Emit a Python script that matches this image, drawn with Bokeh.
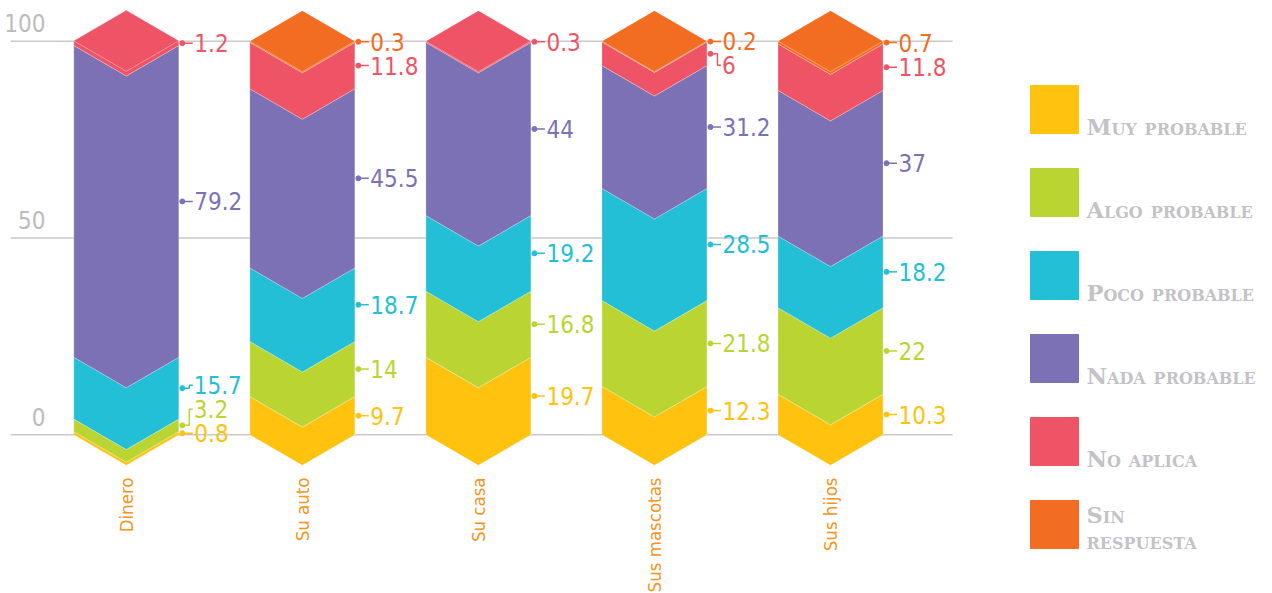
import numpy as np
from bokeh.plotting import figure
from bokeh.models import Range1d, InlineStyleSheet
from bokeh.layouts import row
from bokeh.core.properties import value
from bokeh.embed import file_html
from bokeh.resources import INLINE

# ---------------- data ----------------
categories = ["Dinero", "Su auto", "Su casa", "Sus mascotas", "Sus hijos"]
series_names = ["Muy probable", "Algo probable", "Poco probable",
                "Nada probable", "No aplica", "Sin respuesta"]
muy_probable = [0.8, 9.7, 19.7, 12.3, 10.3]
algo_probable = [3.2, 14, 16.8, 21.8, 22]
poco_probable = [15.7, 18.7, 19.2, 28.5, 18.2]
nada_probable = [79.2, 45.5, 44, 31.2, 37]
no_aplica = [1.2, 11.8, 0.3, 6, 11.8]
sin_respuesta = [0, 0.3, 0, 0.2, 0.7]
y_ticks = [0, 50, 100]
y_tick_labels = ["0", "50", "100"]

series = [muy_probable, algo_probable, poco_probable, nada_probable, no_aplica, sin_respuesta]
colors = ["#FFC20E", "#BAD532", "#23BFD6", "#7B71B4", "#EF5466", "#F26C22"]

# ---------------- geometry (picture pixels -> data units) ----------------
MAIN_W, LEG_W, H = 1008, 256, 592
PX_X = 176.05          # px per category step
PX_Y = 3.936           # px per percent
X0_PAGE = 125.8        # x of first column centre
Y0_PAGE = 434.3        # y of value 0
x_start = (0 - X0_PAGE) / PX_X
x_end = (MAIN_W - X0_PAGE) / PX_X
y_end = Y0_PAGE / PX_Y
y_start = (Y0_PAGE - H) / PX_Y

def dx(px):
    return px / PX_X

def dy(px):
    return px / PX_Y

HALF = dx(52.5)
DIP = dy(30.5)
FONT = value("'DejaVu Sans Condensed', 'Roboto', sans-serif")

p = figure(width=MAIN_W, height=H, x_range=Range1d(x_start, x_end),
           y_range=Range1d(y_start, y_end), output_backend="svg",
           toolbar_location=None, x_axis_type=None, y_axis_type=None,
           min_border=0, outline_line_color=None, background_fill_color="white",
           border_fill_color="white")
p.grid.visible = False

# grid lines
gx0, gx1 = (10 - X0_PAGE) / PX_X, (952 - X0_PAGE) / PX_X
p.segment(x0=[gx0] * len(y_ticks), x1=[gx1] * len(y_ticks), y0=y_ticks, y1=y_ticks,
          line_color="#c9c9c9", line_width=1.5)
p.text(x=[(45 - X0_PAGE) / PX_X] * len(y_ticks), y=[t + dy(18) for t in y_ticks],
       text=y_tick_labels, text_align="right", text_baseline="middle",
       text_color="#bcbcbc", text_font=FONT, text_font_size="24px")

# columns
for i, cat in enumerate(categories):
    vals = [s[i] for s in series]
    nz = [k for k, v in enumerate(vals) if v > 0]
    top_k = nz[-1]
    base = 0.0
    xs, ys, cs = [], [], []
    mids, labels, lcols = [], [], []
    for k in nz:
        v = vals[k]
        lo, hi = base, base + v
        xs.append([i - HALF, i, i + HALF, i + HALF, i, i - HALF])
        if k == top_k:
            ys.append([lo, lo - DIP, lo, hi, hi + DIP, hi])
        else:
            ys.append([lo, lo - DIP, lo, hi, hi - DIP, hi])
        cs.append(colors[k])
        mids.append((lo + hi) / 2)
        labels.append(f"{v:g}")
        lcols.append(colors[k])
        base = hi
    p.patches(xs, ys, fill_color=cs, line_color="white", line_alpha=0.3, line_width=0.8)
    # light inner V line of the top cap
    p.line([i - HALF, i, i + HALF], [base, base - DIP, base], line_color="white",
           line_alpha=0.35, line_width=1)

    # label placement with simple repel
    gap = 6.1
    ty = list(mids)
    for k in range(1, len(ty)):
        ty[k] = max(ty[k], ty[k - 1] + gap)
    ty[-1] = min(ty[-1], 100)
    for k in range(len(ty) - 2, -1, -1):
        ty[k] = min(ty[k], ty[k + 1] - gap)

    edge = i + HALF
    dot_x = edge + dx(3.5)
    lx, ly, tx = [], [], []
    for m, t in zip(mids, ty):
        if abs(m - t) > dy(2):
            lx.append([dot_x, edge + dx(10.5), edge + dx(10.5), edge + dx(14)])
            ly.append([m, m, t, t])
            tx.append(edge + dx(15))
        else:
            lx.append([dot_x, edge + dx(14)])
            ly.append([m, m])
            tx.append(edge + dx(15.5))
    p.multi_line(lx, ly, line_color=lcols, line_width=1.5)
    p.scatter([dot_x] * len(mids), mids, size=5, color=lcols)
    p.text(x=tx, y=ty, text=labels, text_color=lcols, text_font=FONT,
           text_font_size="24px", text_baseline="middle", text_align="left")

# category labels (rotated)
p.text(x=list(range(len(categories))), y=[dy(Y0_PAGE - 477)] * len(categories),
       text=categories, angle=np.pi / 2, text_align="right", text_baseline="middle",
       text_color="#F7941D", text_font=FONT, text_font_size="18.5px")

# ---------------- legend figure ----------------
leg = figure(width=LEG_W, height=H, x_range=Range1d(MAIN_W, MAIN_W + LEG_W),
             y_range=Range1d(H, 0), output_backend="svg", toolbar_location=None,
             x_axis_type=None, y_axis_type=None, min_border=0, outline_line_color=None,
             background_fill_color="white", border_fill_color="white")
leg.grid.visible = False
leg.stylesheets = [InlineStyleSheet(css=":host { font-variant: small-caps; }")]

tops = [85 + 83 * k for k in range(len(series_names))]
leg.quad(left=1030, right=1078, top=tops, bottom=[t + 48 for t in tops], color=colors)
leg_text = [n if n != "Sin respuesta" else "Sin\nrespuesta" for n in series_names]
single = [k for k in range(len(series_names)) if "\n" not in leg_text[k]]
multi = [k for k in range(len(series_names)) if "\n" in leg_text[k]]
LEG_FONT = value("DejaVu Serif")
leg.text(x=[1086] * len(single), y=[tops[k] + 48 - 7 for k in single],
         text=[leg_text[k] for k in single], text_align="left",
         text_baseline="middle", text_color="#c3c3c7",
         text_font=LEG_FONT, text_font_style="bold", text_font_size="22.5px")
leg.text(x=[1086] * len(multi), y=[tops[k] + 1 for k in multi],
         text=[leg_text[k] for k in multi], text_align="left",
         text_baseline="top", text_color="#c3c3c7", text_line_height=1.02,
         text_font=LEG_FONT, text_font_style="bold", text_font_size="22.5px")

layout = row(p, leg)
open("out.html", "w").write(file_html(layout, INLINE))
